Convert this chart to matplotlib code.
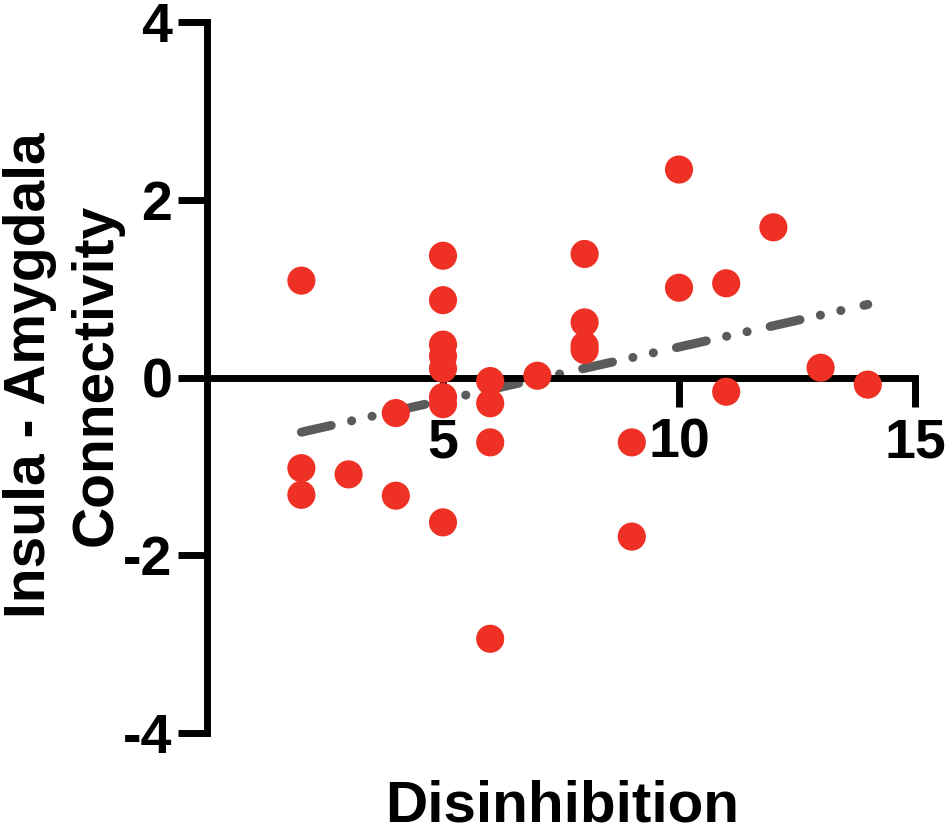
import matplotlib
matplotlib.use("Agg")
import matplotlib.pyplot as plt
import numpy as np

plt.rcParams['font.family'] = ['Liberation Sans', 'DejaVu Sans']
plt.rcParams['font.weight'] = 'bold'
plt.rcParams['lines.scale_dashes'] = False

# Data
disinhibition = [2, 2, 2,
                 3,
                 4, 4,
                 5, 5, 5, 5, 5, 5, 5, 5,
                 6, 6, 6, 6,
                 7,
                 8, 8, 8, 8,
                 9, 9,
                 10, 10,
                 11, 11,
                 12,
                 13,
                 14]
connectivity = [1.09, -1.02, -1.32,
                -1.09,
                -0.40, -1.33,
                1.37, 0.87, 0.37, 0.24, 0.10, -0.22, -0.30, -1.63,
                -0.04, -0.29, -0.73, -2.94,
                0.02,
                1.39, 0.62, 0.36, 0.31,
                -0.73, -1.79,
                2.34, 1.01,
                1.06, -0.16,
                1.69,
                0.11,
                -0.08]
x_ticks = [5, 10, 15]
y_ticks = [-4, -2, 0, 2, 4]
x_label = "Disinhibition"
y_label = "Insula - Amygdala\nConnectivity"

fig = plt.figure(figsize=(9.5, 8.27), dpi=100)
ax = fig.add_axes([207/950, 1-733/827, (915-207)/950, (733-22)/827])

ax.set_xlim(0, 15)
ax.set_ylim(-4, 4)

ax.scatter(disinhibition, connectivity, s=410, color='#EE3124',
           edgecolors='none', zorder=3, clip_on=False)

xd = np.array(disinhibition, dtype=float)
yd = np.array(connectivity, dtype=float)
slope, intercept = np.polyfit(xd, yd, 1)
xl = np.array([xd.min(), xd.max()])
line, = ax.plot(xl, intercept + slope * xl, color='#5B5B5B', lw=6.5,
                solid_capstyle='round', dash_capstyle='round', zorder=2)
line.set_dashes([22, 15, 0.1, 15, 0.1, 17])

for s in ['top', 'right']:
    ax.spines[s].set_visible(False)
ax.spines['bottom'].set_position(('data', 0))
ax.spines['left'].set_position(('data', 0))
for s in ['bottom', 'left']:
    ax.spines[s].set_linewidth(5)
    ax.spines[s].set_capstyle('projecting')

ax.set_xticks(x_ticks)
ax.set_yticks(y_ticks)
ax.set_xticklabels([str(t) for t in x_ticks])
ax.set_yticklabels([str(t) for t in y_ticks])
ax.tick_params(axis='both', direction='out', length=21, width=5,
               labelsize=40, color='black')
ax.tick_params(axis='x', pad=8)
ax.tick_params(axis='y', pad=4)
for lab in ax.get_xticklabels() + ax.get_yticklabels():
    lab.set_fontweight('bold')

fig.text(562/950, 1-821/827, x_label, ha='center', va='baseline',
         fontsize=42, fontweight='bold')
fig.text(63/950, 1-375/827, y_label, ha='center', va='center',
         rotation=90, fontsize=41, fontweight='bold', multialignment='center',
         linespacing=1.3)

fig.savefig('out.png', dpi=100, facecolor='white')
